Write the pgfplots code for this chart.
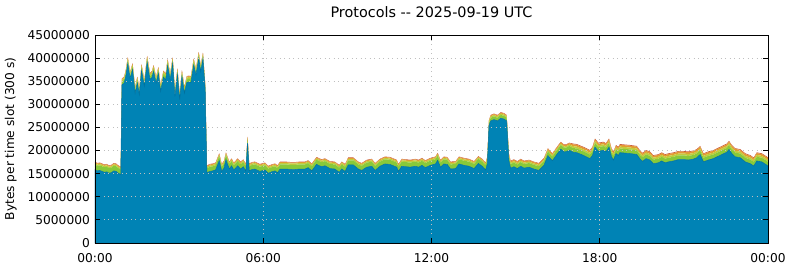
\documentclass[border=0pt]{standalone}
\usepackage{fontspec}
\setmainfont{DejaVu Sans}
\usepackage{pgfplots}
\pgfplotsset{compat=1.18}
\usepackage{pgfplotstable}
\definecolor{cB}{HTML}{0083B5}
\definecolor{cBd}{HTML}{00709E}
\definecolor{cG}{HTML}{88C93A}
\definecolor{cY}{HTML}{C2CC3A}
\definecolor{cO}{HTML}{E39A32}
\definecolor{cR}{HTML}{C8553A}
\pgfplotstableread{
t B G Y O R
0.00 15.9 1.1 0.3 0.2 0.1
0.08 15.6 1.1 0.3 0.2 0.1
0.17 15.7 1.1 0.3 0.2 0.1
0.25 15.5 1.1 0.3 0.2 0.1
0.33 15.3 1.1 0.3 0.2 0.1
0.42 15.4 1.1 0.3 0.2 0.1
0.50 15.1 1.1 0.3 0.2 0.1
0.58 15.2 1.1 0.3 0.2 0.1
0.67 15.6 1.1 0.3 0.2 0.1
0.75 15.5 1.1 0.3 0.2 0.1
0.83 15.1 1.1 0.3 0.2 0.1
0.92 14.8 1.1 0.3 0.2 0.1
0.96 34.2 0.7 0.4 0.2 0.1
1.04 34.6 0.7 0.4 0.2 0.1
1.10 36.1 0.7 0.4 0.2 0.1
1.17 38.8 0.7 0.4 0.2 0.1
1.25 35.6 0.7 0.4 0.2 0.1
1.34 37.5 0.7 0.4 0.2 0.1
1.43 32.4 0.7 0.4 0.2 0.1
1.51 34.6 0.7 0.4 0.2 0.1
1.58 32.1 0.7 0.4 0.2 0.1
1.66 37.3 0.7 0.4 0.2 0.1
1.76 33.9 0.7 0.4 0.2 0.1
1.86 39.1 0.7 0.4 0.2 0.1
1.96 35.4 0.7 0.4 0.2 0.1
2.03 35.8 0.7 0.4 0.2 0.1
2.09 37.1 0.7 0.4 0.2 0.1
2.18 34.6 0.7 0.4 0.2 0.1
2.26 36.7 0.7 0.4 0.2 0.1
2.34 32.8 0.7 0.4 0.2 0.1
2.44 35.9 0.7 0.4 0.2 0.1
2.52 35.3 0.7 0.4 0.2 0.1
2.59 38.4 0.7 0.4 0.2 0.1
2.68 35.3 0.7 0.4 0.2 0.1
2.77 38.8 0.7 0.4 0.2 0.1
2.85 31.7 0.7 0.4 0.2 0.1
2.94 36.4 0.7 0.4 0.2 0.1
3.02 31.0 0.7 0.4 0.2 0.1
3.10 36.0 0.7 0.4 0.2 0.1
3.19 32.4 0.7 0.4 0.2 0.1
3.27 34.7 0.7 0.4 0.2 0.1
3.35 34.8 0.7 0.4 0.2 0.1
3.42 34.7 0.7 0.4 0.2 0.1
3.52 38.5 0.7 0.4 0.2 0.1
3.60 36.4 0.7 0.4 0.2 0.1
3.70 39.9 0.7 0.4 0.2 0.1
3.77 37.1 0.7 0.4 0.2 0.1
3.85 39.8 0.7 0.4 0.2 0.1
3.93 33.2 0.7 0.4 0.2 0.1
3.99 15.2 1.0 0.3 0.2 0.1
4.10 15.5 1.0 0.3 0.2 0.1
4.20 15.6 1.0 0.3 0.2 0.1
4.30 15.8 1.0 0.3 0.2 0.1
4.43 17.8 1.0 0.3 0.2 0.1
4.52 15.5 1.0 0.3 0.2 0.1
4.60 16.2 1.0 0.3 0.2 0.1
4.67 18.0 1.0 0.3 0.2 0.1
4.79 16.0 1.0 0.3 0.2 0.1
4.87 16.7 1.0 0.3 0.2 0.1
4.95 15.8 1.0 0.3 0.2 0.1
5.09 16.7 1.0 0.3 0.2 0.1
5.19 16.0 1.0 0.3 0.2 0.1
5.29 16.5 1.0 0.3 0.2 0.1
5.38 15.5 1.0 0.3 0.2 0.1
5.44 21.6 0.8 0.3 0.2 0.1
5.50 15.6 1.0 0.3 0.2 0.1
5.60 15.9 1.0 0.3 0.2 0.1
5.70 16.0 1.0 0.3 0.2 0.1
5.88 15.5 1.0 0.3 0.2 0.1
6.06 15.8 1.0 0.3 0.2 0.1
6.18 15.1 1.0 0.3 0.2 0.1
6.30 15.4 1.0 0.3 0.2 0.1
6.42 15.6 1.0 0.3 0.2 0.1
6.51 15.2 1.0 0.3 0.2 0.1
6.60 16.0 1.0 0.3 0.2 0.1
6.80 16.0 1.0 0.3 0.2 0.1
7.00 15.9 1.0 0.3 0.2 0.1
7.13 15.9 1.0 0.3 0.2 0.1
7.30 16.0 1.0 0.3 0.2 0.1
7.49 16.0 1.0 0.3 0.2 0.1
7.60 16.3 1.0 0.3 0.2 0.1
7.73 15.6 1.0 0.3 0.2 0.1
7.90 17.0 1.0 0.3 0.2 0.1
8.08 16.5 1.0 0.3 0.2 0.1
8.20 16.7 1.0 0.3 0.2 0.1
8.38 16.1 1.0 0.3 0.2 0.1
8.55 16.0 1.0 0.3 0.2 0.1
8.71 15.3 1.0 0.3 0.2 0.1
8.80 16.0 1.0 0.3 0.2 0.1
8.92 15.5 1.0 0.3 0.2 0.1
9.03 16.9 1.0 0.3 0.2 0.1
9.21 16.9 1.0 0.3 0.2 0.1
9.39 16.0 1.0 0.3 0.2 0.1
9.51 15.7 1.0 0.3 0.2 0.1
9.69 16.4 1.0 0.3 0.2 0.1
9.87 16.6 1.0 0.3 0.2 0.1
9.99 15.7 1.0 0.3 0.2 0.1
10.16 16.6 1.0 0.3 0.2 0.1
10.34 17.1 1.0 0.3 0.2 0.1
10.52 17.0 1.0 0.3 0.2 0.1
10.76 16.4 1.0 0.3 0.2 0.1
10.82 15.5 1.0 0.3 0.2 0.1
10.94 16.6 1.0 0.3 0.2 0.1
11.10 16.5 1.0 0.3 0.2 0.1
11.24 16.4 1.0 0.3 0.2 0.1
11.42 16.6 1.0 0.3 0.2 0.1
11.54 16.4 1.0 0.3 0.2 0.1
11.66 16.8 1.0 0.3 0.2 0.1
11.78 16.3 1.0 0.3 0.2 0.1
11.96 16.8 1.0 0.3 0.2 0.1
12.14 17.1 1.0 0.3 0.2 0.1
12.22 17.9 1.0 0.3 0.2 0.1
12.32 16.4 1.0 0.3 0.2 0.1
12.44 17.1 1.0 0.3 0.2 0.1
12.56 17.0 1.0 0.3 0.2 0.1
12.68 16.0 1.0 0.3 0.2 0.1
12.86 16.1 1.0 0.3 0.2 0.1
12.98 17.1 1.0 0.3 0.2 0.1
13.16 16.8 1.0 0.3 0.2 0.1
13.34 16.6 1.0 0.3 0.2 0.1
13.52 16.1 1.0 0.3 0.2 0.1
13.67 17.2 1.0 0.3 0.2 0.1
13.81 16.6 1.0 0.3 0.2 0.1
13.93 15.8 1.0 0.3 0.2 0.1
13.99 17.1 1.0 0.3 0.2 0.1
14.05 25.3 0.7 0.3 0.2 0.1
14.11 26.4 0.7 0.3 0.2 0.1
14.23 26.7 0.7 0.3 0.2 0.1
14.35 26.4 0.7 0.3 0.2 0.1
14.47 27.0 0.7 0.3 0.2 0.1
14.59 26.8 0.7 0.3 0.2 0.1
14.68 26.4 0.7 0.3 0.2 0.1
14.76 17.8 0.9 0.3 0.3 0.1
14.82 16.2 0.9 0.3 0.3 0.1
14.94 16.5 0.9 0.3 0.3 0.1
15.06 16.1 0.9 0.3 0.3 0.1
15.18 16.6 0.9 0.3 0.3 0.1
15.30 16.2 0.9 0.3 0.3 0.1
15.48 16.4 0.9 0.3 0.3 0.1
15.65 16.0 0.9 0.3 0.3 0.1
15.83 15.7 0.9 0.3 0.3 0.1
16.01 16.8 0.9 0.3 0.3 0.1
16.15 18.9 0.9 0.3 0.3 0.1
16.31 17.8 0.9 0.3 0.3 0.1
16.45 19.0 0.9 0.3 0.3 0.1
16.61 20.3 0.9 0.3 0.3 0.1
16.73 19.7 0.9 0.3 0.3 0.1
16.82 19.8 0.9 0.3 0.3 0.1
16.91 20.1 0.9 0.3 0.3 0.1
17.05 19.65 0.9 0.4 0.4 0.15
17.18 19.55 0.9 0.4 0.4 0.15
17.42 18.95 0.9 0.4 0.4 0.15
17.65 18.25 0.9 0.4 0.4 0.15
17.74 18.95 0.9 0.4 0.4 0.15
17.83 20.75 0.9 0.4 0.4 0.15
17.95 19.85 0.9 0.4 0.4 0.15
18.13 20.05 0.9 0.4 0.4 0.15
18.22 19.75 0.9 0.4 0.4 0.15
18.33 20.75 0.9 0.4 0.4 0.15
18.42 18.65 0.9 0.4 0.4 0.15
18.49 17.95 0.9 0.4 0.4 0.15
18.58 19.35 0.9 0.4 0.4 0.15
18.66 18.95 0.9 0.4 0.4 0.15
18.72 19.55 0.9 0.4 0.4 0.15
18.90 19.45 0.9 0.4 0.4 0.15
19.08 19.35 0.9 0.4 0.4 0.15
19.32 19.15 0.9 0.4 0.4 0.15
19.44 18.15 0.9 0.4 0.4 0.15
19.53 17.65 0.9 0.4 0.4 0.15
19.65 18.25 0.9 0.4 0.4 0.15
19.79 17.95 0.9 0.4 0.4 0.15
19.91 17.15 0.9 0.4 0.4 0.15
20.09 17.35 0.9 0.4 0.4 0.15
20.21 17.75 0.9 0.4 0.4 0.15
20.33 17.35 0.9 0.4 0.4 0.15
20.45 17.55 0.9 0.4 0.4 0.15
20.63 17.75 0.9 0.4 0.4 0.15
20.81 18.05 0.9 0.4 0.4 0.15
20.99 18.05 0.9 0.4 0.4 0.15
21.16 17.95 0.9 0.4 0.4 0.15
21.34 18.15 0.9 0.4 0.4 0.15
21.46 18.45 0.9 0.4 0.4 0.15
21.58 19.15 0.9 0.4 0.4 0.15
21.70 17.55 0.9 0.4 0.4 0.15
21.87 17.95 0.9 0.4 0.4 0.15
22.05 18.25 0.9 0.4 0.4 0.15
22.29 18.95 0.9 0.4 0.4 0.15
22.53 19.65 0.9 0.4 0.4 0.15
22.61 20.25 0.9 0.4 0.4 0.15
22.71 19.35 0.9 0.4 0.4 0.15
22.83 18.65 0.9 0.4 0.4 0.15
23.01 18.45 0.9 0.4 0.4 0.15
23.19 17.55 0.9 0.4 0.4 0.15
23.37 17.15 0.9 0.4 0.4 0.15
23.49 16.65 0.9 0.4 0.4 0.15
23.60 17.75 0.9 0.4 0.4 0.15
23.78 17.55 0.9 0.4 0.4 0.15
23.96 16.85 0.9 0.4 0.4 0.15
24.00 16.65 0.9 0.4 0.4 0.15
}\data
\begin{document}
\fontsize{12bp}{14bp}\selectfont
\begin{tikzpicture}
\useasboundingbox (-95bp,-24bp) rectangle (695bp,243bp);
\begin{axis}[
  at={(0,0)}, anchor=south west,
  scale only axis, width=673bp, height=208bp,
  xmin=0, xmax=24, ymin=0, ymax=45,
  xtick={0,6,12,18,24},
  xticklabels={00:00,06:00,12:00,18:00,00:00},
  ytick={0,5,10,15,20,25,30,35,40,45},
  yticklabels={0,5000000,10000000,15000000,20000000,25000000,30000000,35000000,40000000,45000000},
  tick align=inside, major tick length=5bp,
  tick style={black, line width=0.8bp},
  axis line style={line width=0.9bp},
  grid=major, grid style={line width=0.9bp, gray!50, dash pattern=on 0.9bp off 3.6bp},
  font=\fontsize{12.2bp}{14bp}\selectfont,
  tick label style={font=\fontsize{12.2bp}{14bp}\selectfont},
  xticklabel style={anchor=base, yshift=-19bp},
  yticklabel style={anchor=east, xshift=-1bp},
  title={Protocols -{}- 2025-09-19 UTC},
  title style={at={(axis description cs:0.5,1)}, anchor=base, yshift=12bp, font=\fontsize{14.4bp}{16bp}\selectfont},
  ylabel={Bytes per time slot (300 s)},
  ylabel style={at={(axis description cs:-0.125,0.5)}, anchor=center, font=\fontsize{12.2bp}{14bp}\selectfont},
  stack plots=y, area style,
]
\addplot[fill=cB, draw=cBd, line width=0.5bp] table[x=t,y=B]{\data} \closedcycle;
\addplot[fill=cG, draw=none] table[x=t,y=G]{\data} \closedcycle;
\addplot[fill=cY, draw=none] table[x=t,y=Y]{\data} \closedcycle;
\addplot[fill=cO, draw=none] table[x=t,y=O]{\data} \closedcycle;
\addplot[fill=cR, draw=none] table[x=t,y=R]{\data} \closedcycle;
\end{axis}
\end{tikzpicture}
\end{document}
